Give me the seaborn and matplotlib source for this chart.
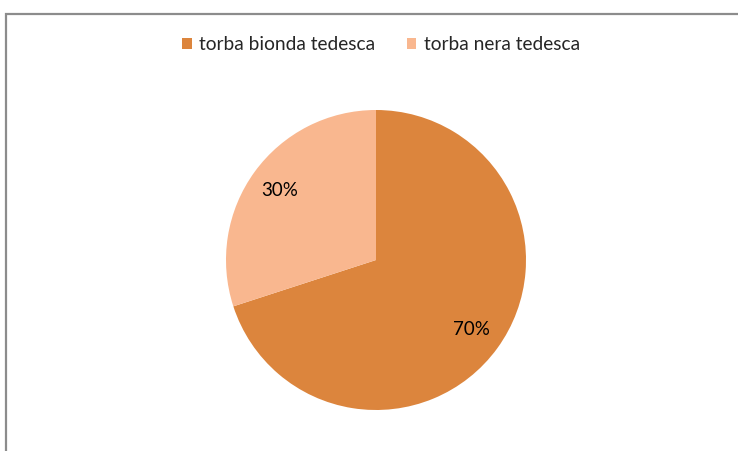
import matplotlib
matplotlib.use("Agg")
import matplotlib.pyplot as plt
import seaborn as sns
from matplotlib.patches import Rectangle

# dati
categorie = ["torba bionda tedesca", "torba nera tedesca"]
valori = [70, 30]
colori = ["#DC853D", "#F9B78F"]

sns.set_theme(style="white")
plt.rcParams['font.family'] = ['Lato', 'DejaVu Sans']

fig = plt.figure(figsize=(7.38, 4.51), dpi=100)
W, H = 738, 451

# cornice grigia (bordo del grafico)
fig.add_artist(Rectangle((6.5 / W, -0.1), 2.0, (H - 13.5) / H + 0.1,
                         transform=fig.transFigure, fill=False,
                         edgecolor="#8C8C8C", linewidth=1.6))

# torta: centro (376, 260) px, raggio 150 px
cx, cy, r = 376, H - 260, 150
ax = fig.add_axes([(cx - r) / W, (cy - r) / H, 2 * r / W, 2 * r / H])
wedges, texts, autotexts = ax.pie(
    valori, colors=colori, startangle=90, counterclock=False,
    autopct="%1.0f%%", pctdistance=0.79, radius=1,
    wedgeprops=dict(linewidth=0),
    textprops=dict(fontsize=13.5, color="black"))
ax.set_xlim(-1, 1)
ax.set_ylim(-1, 1)
ax.set_aspect("equal")
ax.axis("off")

fig.legend(wedges, categorie, loc="center", bbox_to_anchor=(381 / W, 1 - 45 / H),
           ncol=2, frameon=False, fontsize=13.8, handlelength=0.5, handleheight=0.5,
           handletextpad=0.38, columnspacing=1.65)

plt.savefig("out.png", dpi=100)
